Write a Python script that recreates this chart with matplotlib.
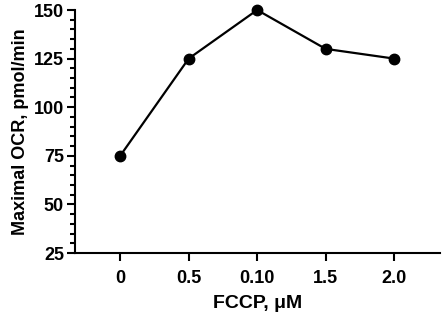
import matplotlib
matplotlib.use("Agg")
import matplotlib.pyplot as plt
from matplotlib.ticker import MultipleLocator

categories = ["0", "0.5", "0.10", "1.5", "2.0"]
values = [75, 125, 150, 130, 125]

plt.rcParams['font.family'] = ['Liberation Sans', 'DejaVu Sans']
plt.rcParams['font.weight'] = 'bold'

fig = plt.figure(figsize=(4.47, 3.23), dpi=100)
ax = fig.add_axes([75/447, 1-253/323, (440-75)/447, (253-10)/323])

x = list(range(len(categories)))
ax.plot(x, values, color='black', lw=1.6, marker='o', markersize=7.5, clip_on=False, zorder=3)

ax.set_xlim(-0.66, 4.67)
ax.set_ylim(25, 150)
ax.set_xticks(x)
ax.set_xticklabels(categories, fontsize=13, fontweight='bold')
ax.yaxis.set_major_locator(MultipleLocator(25))
ax.yaxis.set_minor_locator(MultipleLocator(5))
for lbl in ax.get_yticklabels():
    lbl.set_fontsize(13)
    lbl.set_fontweight('bold')
ax.tick_params(axis='both', which='major', length=6, width=1.5, direction='out', pad=2)
ax.tick_params(axis='x', which='major', pad=6)
ax.tick_params(axis='y', which='minor', length=3.5, width=1.5, direction='out')
ax.tick_params(axis='x', which='minor', length=0)

for s in ['top', 'right']:
    ax.spines[s].set_visible(False)
for s in ['left', 'bottom']:
    ax.spines[s].set_linewidth(1.5)

ax.set_xlabel("FCCP, μM", fontsize=14, fontweight='bold', labelpad=6)
ax.set_ylabel("Maximal OCR, pmol/min", fontsize=13, fontweight='bold', labelpad=3)

fig.savefig("out.png", dpi=100)
